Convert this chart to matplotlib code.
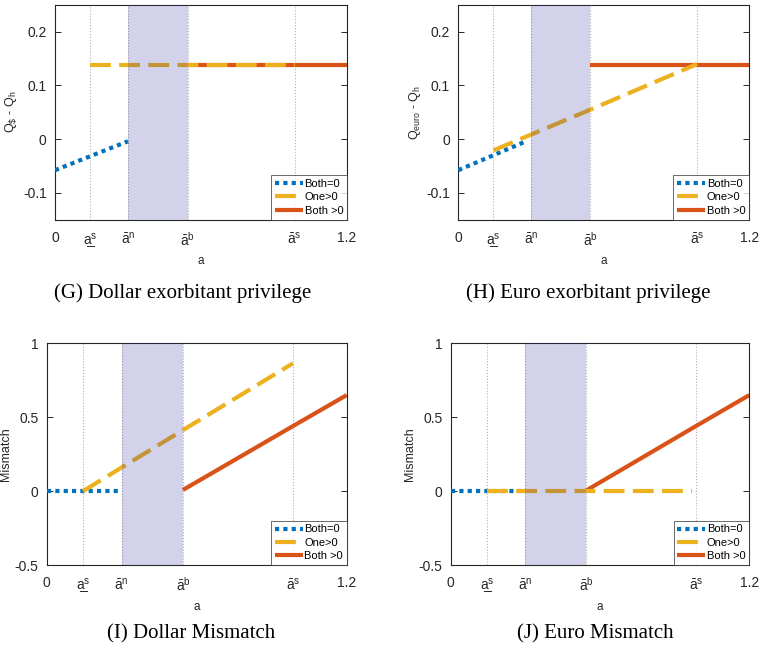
import numpy as np
import matplotlib
matplotlib.use("Agg")
import matplotlib.pyplot as plt

plt.rcParams['font.family'] = ['Liberation Sans', 'DejaVu Sans']
plt.rcParams['mathtext.fontset'] = 'custom'
plt.rcParams['mathtext.rm'] = 'Liberation Sans'
plt.rcParams['mathtext.it'] = 'Liberation Sans'
plt.rcParams['mathtext.bf'] = 'Liberation Sans'

# thresholds on the a axis
a_s_low = 0.145
a_n = 0.30
a_b = 0.545
a_s_bar = 0.985
x_ticks = [0, a_s_low, a_n, a_b, a_s_bar, 1.2]
x_ticklabels = ['0', 'a\u0332$^{\\mathrm{s}}$', r'$\bar{\mathrm{a}}^{\mathrm{n}}$',
                r'$\bar{\mathrm{a}}^{\mathrm{b}}$', r'$\bar{\mathrm{a}}^{\mathrm{s}}$', '1.2']

# (G) dollar exorbitant privilege
g_both0_x = [0, 0.30]
g_both0_y = [-0.058, -0.004]
g_one_x = [a_s_low, a_s_bar]
g_one_y = [0.139, 0.139]
g_both_x = [a_b, 1.2]
g_both_y = [0.139, 0.139]

# (H) euro exorbitant privilege
h_both0_x = [0, 0.28]
h_both0_y = [-0.058, -0.004]
h_one_x = [a_s_low, a_b, a_s_bar]
h_one_y = [-0.021, 0.055, 0.140]
h_both_x = [a_b, 1.2]
h_both_y = [0.139, 0.139]

# (I) dollar mismatch
i_both0_x = [0, 0.30]
i_both0_y = [0, 0]
i_one_x = [a_s_low, a_b, a_s_bar]
i_one_y = [0.0, 0.413, 0.865]
i_both_x = [a_b, a_s_bar, 1.2]
i_both_y = [0.008, 0.44, 0.65]

# (J) euro mismatch
j_both0_x = [0, 0.30]
j_both0_y = [0, 0]
j_one_x = [a_s_low, 0.97]
j_one_y = [0, 0]
j_both_x = [a_b, a_s_bar, 1.2]
j_both_y = [0.005, 0.44, 0.65]

blue = '#0072BD'
yellow = '#EDB120'
red = '#D95319'

panels = [
    dict(pos=[0.0725, 0.6633, 0.3847, 0.329], ylim=(-0.15, 0.25), yticks=[-0.1, 0, 0.1, 0.2],
         yticklabels=['-0.1', '0', '0.1', '0.2'], ylabel=r'Q$_\$$ - Q$_\mathrm{h}$',
         data=(g_both0_x, g_both0_y, g_one_x, g_one_y, g_both_x, g_both_y),
         caption='(G) Dollar exorbitant privilege', cap_xy=(183, 293)),
    dict(pos=[0.6038, 0.6633, 0.3834, 0.329], ylim=(-0.15, 0.25), yticks=[-0.1, 0, 0.1, 0.2],
         yticklabels=['-0.1', '0', '0.1', '0.2'], ylabel=r'Q$_\mathrm{euro}$ - Q$_\mathrm{h}$',
         data=(h_both0_x, h_both0_y, h_one_x, h_one_y, h_both_x, h_both_y),
         caption='(H) Euro exorbitant privilege', cap_xy=(588, 293)),
    dict(pos=[0.0615, 0.1334, 0.3953, 0.340], ylim=(-0.5, 1.0), yticks=[-0.5, 0, 0.5, 1],
         yticklabels=['-0.5', '0', '0.5', '1'], ylabel='Mismatch',
         data=(i_both0_x, i_both0_y, i_one_x, i_one_y, i_both_x, i_both_y),
         caption='(I) Dollar Mismatch', cap_xy=(191, 634)),
    dict(pos=[0.5938, 0.1334, 0.3935, 0.340], ylim=(-0.5, 1.0), yticks=[-0.5, 0, 0.5, 1],
         yticklabels=['-0.5', '0', '0.5', '1'], ylabel='Mismatch',
         data=(j_both0_x, j_both0_y, j_one_x, j_one_y, j_both_x, j_both_y),
         caption='(J) Euro Mismatch', cap_xy=(595, 634)),
]

W, H = 759, 652
fig = plt.figure(figsize=(W / 100, H / 100), dpi=100)

for p in panels:
    ax = fig.add_axes(p['pos'])
    bx, by, ox, oy, rx, ry = p['data']
    ax.plot(bx, by, color=blue, lw=3, linestyle=(0, (1, 1)), dash_capstyle='butt',
            label='Both=0', zorder=3)
    ax.plot(rx, ry, color=red, lw=3, solid_capstyle='butt', label='Both >0', zorder=2)
    ax.plot(ox, oy, color=yellow, lw=3, linestyle=(0, (5, 2)), dash_capstyle='butt',
            label='One>0', zorder=4)
    for xv in [a_s_low, a_n, a_b, a_s_bar]:
        ax.axvline(xv, color='#b0b0b0', lw=0.8, linestyle=':', zorder=1)
    ax.axvspan(a_n, a_b, color=(0.13, 0.13, 0.59), alpha=0.2, lw=0, zorder=5)
    ax.set_xlim(0, 1.2)
    ax.set_ylim(*p['ylim'])
    ax.set_xticks(x_ticks)
    ax.set_xticklabels(x_ticklabels)
    ax.set_yticks(p['yticks'])
    ax.set_yticklabels(p['yticklabels'])
    ax.tick_params(direction='in', length=4, width=0.7, labelsize=10, colors='#262626',
                   right=True, top=False, pad=6)
    ax.tick_params(axis='x', length=0, pad=8)
    for s in ax.spines.values():
        s.set_linewidth(0.8)
        s.set_color('#262626')
    ax.set_xlabel('a', fontsize=8.5, color='#262626', labelpad=4)
    ax.set_ylabel(p['ylabel'], fontsize=9, color='#262626', labelpad=2)
    h, l = ax.get_legend_handles_labels()
    order = [0, 2, 1]
    leg = ax.legend([h[i] for i in order], [l[i] for i in order], loc='lower right',
                    fontsize=8, frameon=True, fancybox=False, borderaxespad=0,
                    handlelength=2.5, handletextpad=0.15, labelspacing=0.3,
                    borderpad=0.35)
    leg.get_frame().set_edgecolor('#262626')
    leg.get_frame().set_linewidth(0.6)
    leg.set_zorder(10)
    cx, cy = p['cap_xy']
    fig.text(cx / W, 1 - cy / H, p['caption'], ha='center', va='center',
             fontsize=15, family='Liberation Serif')

fig.savefig('out.png', dpi=100)
